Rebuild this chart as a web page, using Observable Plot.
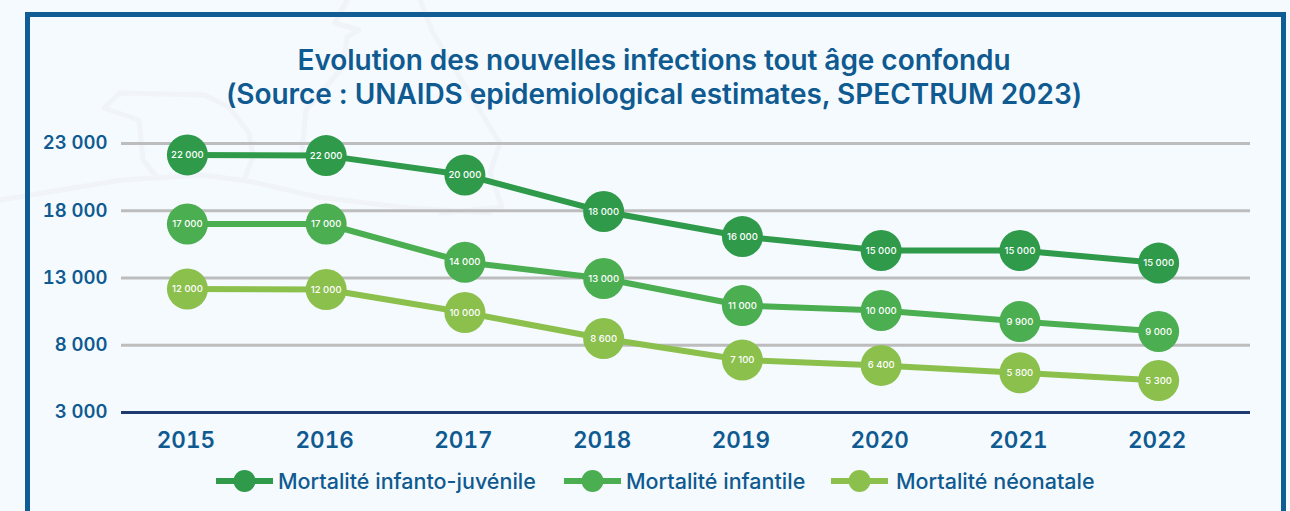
<!DOCTYPE html>
<html lang="fr">
<head>
<meta charset="utf-8">
<script src="https://cdn.jsdelivr.net/npm/d3@7"></script>
<script src="https://cdn.jsdelivr.net/npm/@observablehq/plot@0.6"></script>
<style>
html,body{margin:0;padding:0;background:#f5faff;}
body{width:1290px;height:511px;overflow:hidden;position:relative;font-family:"Inter",sans-serif;color:#0f5a90;}
#bgmap{position:absolute;left:0;top:0;}
#frame{position:absolute;left:25px;top:12px;width:1251px;height:520px;border:5px solid #0f5d94;box-sizing:content-box;}
#title{position:absolute;left:0;top:43px;width:1308px;text-align:center;font-size:28px;font-weight:600;letter-spacing:-0.05px;line-height:34px;}
#chart{position:absolute;left:0;top:120px;}
#legend .it{position:absolute;top:468px;height:26px;display:block;}
#legend svg{position:absolute;left:0;top:0;}
#legend span{position:absolute;top:0;line-height:26px;font-size:21.5px;font-weight:500;white-space:nowrap;}
</style>
</head>
<body>
<svg id="bgmap" width="1290" height="511" fill="none" stroke="#f0f4f8" stroke-width="5" stroke-linejoin="round" stroke-linecap="round">
  <path d="M0 200L122 180L204 175L253 182L318 197L408 208L490 213"/>
  <path d="M157 177L143 160L139 120L104 108L120 93L204 95L229 107L249 133L253 157L245 177"/>
  <path d="M347 0L335 23L359 30L347 37L343 67L306 110L302 153"/>
  <path d="M420 0L433 33L490 127L500 143L490 173L502 207L441 213"/>
</svg>
<div id="frame"></div>
<div id="title">Evolution des nouvelles infections tout âge confondu<br>(Source : UNAIDS epidemiological estimates, SPECTRUM 2023)</div>
<div id="chart"></div>
<div id="legend"></div>
<script>
const years = [2015, 2016, 2017, 2018, 2019, 2020, 2021, 2022];
const yTicks = [3000, 8000, 13000, 18000, 23000];
const gridTicks = [8000, 13000, 18000, 23000];

const seriesNames = ["Mortalité infanto-juvénile", "Mortalité infantile", "Mortalité néonatale"];
const seriesColors = ["#2e9a4a", "#4bae50", "#8bc04d"];

// Plotted positions
const infantoJuvenile = [22150, 22100, 20660, 17940, 16080, 15040, 15040, 14110];
const infantile = [17015, 17015, 14175, 12963, 10955, 10584, 9766, 9022];
const neonatale = [12182, 12145, 10435, 8502, 6903, 6500, 5950, 5380];

// Labels as printed inside the circles
const infantoJuvenileLabels = ["22 000", "22 000", "20 000", "18 000", "16 000", "15 000", "15 000", "15 000"];
const infantileLabels = ["17 000", "17 000", "14 000", "13 000", "11 000", "10 000", "9 900", "9 000"];
const neonataleLabels = ["12 000", "12 000", "10 000", "8 600", "7 100", "6 400", "5 800", "5 300"];

const allValues = [infantoJuvenile, infantile, neonatale];
const allLabels = [infantoJuvenileLabels, infantileLabels, neonataleLabels];
const rows = allValues.flatMap((vals, s) => vals.map((v, i) => ({
  year: years[i], value: v, label: allLabels[s][i], series: seriesNames[s]
})));

const fmt = d => d3.format(",")(d).replace(/,/g, " ");
const colorOpts = {domain: seriesNames, range: seriesColors};

const perSeries = seriesNames.flatMap(name => {
  const d = rows.filter(r => r.series === name);
  return [
    Plot.line(d, {x: "year", y: "value", stroke: "series", strokeWidth: 6}),
    Plot.dot(d, {x: "year", y: "value", fill: "series", r: 20.5, stroke: "none"}),
    Plot.text(d, {x: "year", y: "value", text: "label", fill: "white", fontSize: 9.5, fontWeight: 500})
  ];
});

const chart = Plot.plot({
  width: 1290, height: 340,
  marginLeft: 121, marginRight: 40, marginTop: 23, marginBottom: 48,
  x: {domain: [2014.525, 2022.662], label: null},
  y: {domain: [3000, 23000], label: null},
  color: colorOpts,
  style: {background: "transparent", fontFamily: "Inter, sans-serif", overflow: "visible"},
  marks: [
    Plot.ruleY(gridTicks, {stroke: "#bdbdbd", strokeWidth: 3}),
    Plot.ruleY([3000], {stroke: "#1f3a70", strokeWidth: 3}),
    Plot.axisY({ticks: yTicks, tickFormat: fmt, tickSize: 0, tickPadding: 14, label: null,
      fontSize: 18.5, fontWeight: 600, fill: "#0f5a90", marginLeft: 121}),
    Plot.axisX({ticks: years, tickFormat: d => String(d), tickSize: 0, tickPadding: 20, label: null,
      fontSize: 22.5, fontWeight: 600, fill: "#0f5a90", dx: -1.5}),
    ...perSeries
  ]
});
document.getElementById("chart").appendChild(chart);

// Legend
const legendLeft = [216, 564, 831];
const legendEl = document.getElementById("legend");
seriesNames.forEach((name, i) => {
  const it = document.createElement("div");
  it.className = "it";
  it.style.left = legendLeft[i] + "px";
  it.innerHTML = `<svg width="58" height="26"><line x1="0" x2="57" y1="13" y2="13" stroke="${seriesColors[i]}" stroke-width="6"/><circle cx="28.5" cy="13" r="11" fill="${seriesColors[i]}"/></svg><span style="left:${i === 2 ? 65 : 62}px">${name}</span>`;
  legendEl.appendChild(it);
});
</script>
</body>
</html>
